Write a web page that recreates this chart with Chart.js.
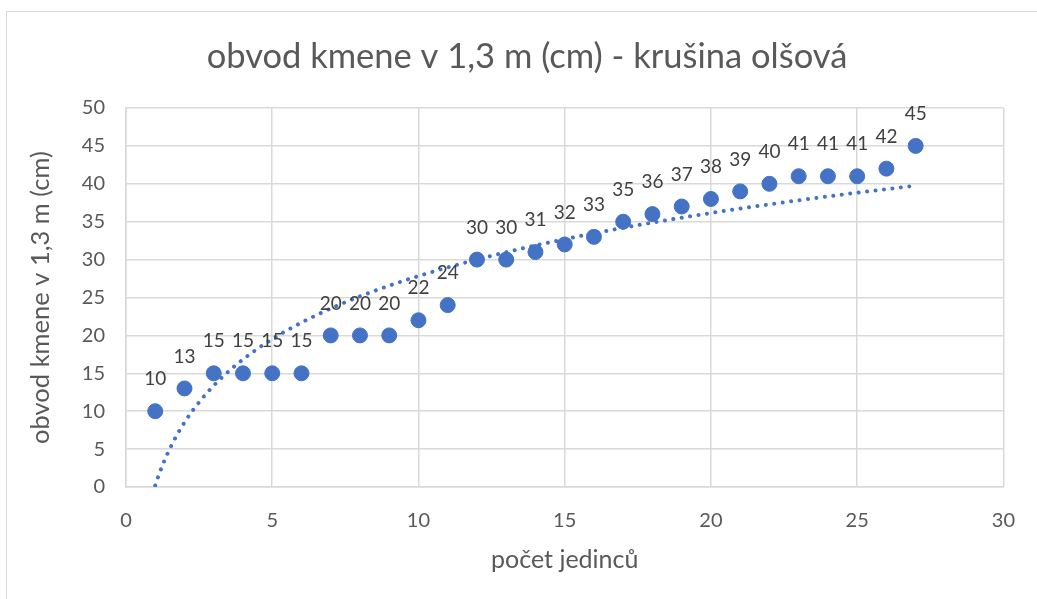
<!DOCTYPE html>
<html lang="cs">
<head>
<meta charset="utf-8">
<title>obvod kmene v 1,3 m (cm) - krušina olšová</title>
<script src="https://cdn.jsdelivr.net/npm/chart.js@4/dist/chart.umd.min.js"></script>
<style>
  html, body { margin: 0; padding: 0; background: #fff; overflow: hidden; }
  #frame { position: absolute; left: 6px; top: 11px; width: 1100px; height: 700px; border: 1px solid #d9d9d9; }
  #chart { position: absolute; left: 0; top: 0; }
</style>
</head>
<body>
<div id="frame"></div>
<canvas id="chart" width="1037" height="599"></canvas>
<script>
/* Obvod kmene — krušina olšová, scatter + log trendline */

const jedinci = [1, 2, 3, 4, 5, 6, 7, 8, 9, 10, 11, 12, 13, 14, 15, 16, 17, 18, 19, 20, 21, 22, 23, 24, 25, 26, 27];
const obvod = [10, 13, 15, 15, 15, 15, 20, 20, 20, 22, 24, 30, 30, 31, 32, 33, 35, 36, 37, 38, 39, 40, 41, 41, 41, 42, 45];
const xTicks = [0, 5, 10, 15, 20, 25, 30];
const yTicks = [0, 5, 10, 15, 20, 25, 30, 35, 40, 45, 50];

const BLUE = '#4472C4';
const GREY_TEXT = '#595959';
const GRID = '#d9d9d9';
const FONT = 'Lato, "Open Sans", sans-serif';

// ---- logarithmic trendline (least squares on ln x, like Excel) ----
function logFit(xs, ys) {
  const lx = xs.map(Math.log);
  const n = xs.length;
  const mx = lx.reduce((a, b) => a + b, 0) / n;
  const my = ys.reduce((a, b) => a + b, 0) / n;
  let sxy = 0, sxx = 0;
  lx.forEach((v, i) => { sxy += (v - mx) * (ys[i] - my); sxx += (v - mx) * (v - mx); });
  const a = sxy / sxx;
  return { a, b: my - a * mx };
}
const fit = logFit(jedinci, obvod);
const trend = [];
for (let x = jedinci[0]; x <= jedinci[jedinci.length - 1] + 1e-9; x += 0.1) {
  trend.push({ x, y: fit.a * Math.log(x) + fit.b });
}

// ---- data labels above each point ----
const pointLabels = {
  id: 'pointLabels',
  afterDatasetsDraw(chart) {
    const meta = chart.getDatasetMeta(0);
    const ctx = chart.ctx;
    ctx.save();
    ctx.font = '19px ' + FONT;
    ctx.fillStyle = '#404040';
    ctx.textAlign = 'center';
    ctx.textBaseline = 'middle';
    meta.data.forEach((pt, i) => ctx.fillText(String(obvod[i]), pt.x, pt.y - 32));
    ctx.restore();
  }
};

new Chart(document.getElementById('chart'), {
  type: 'scatter',
  data: {
    datasets: [
      {
        label: 'obvod kmene v 1,3 m (cm)',
        data: jedinci.map((x, i) => ({ x, y: obvod[i] })),
        backgroundColor: BLUE,
        borderColor: BLUE,
        pointRadius: 7.5,
        pointHoverRadius: 7.5,
        order: 0
      },
      {
        label: 'trend',
        type: 'line',
        data: trend,
        borderColor: BLUE,
        borderWidth: 4,
        borderDash: [0.01, 8.5],
        borderCapStyle: 'round',
        pointRadius: 0,
        fill: false,
        tension: 0,
        order: 1
      }
    ]
  },
  options: {
    responsive: false,
    animation: false,
    events: [],
    // left/right padding also centres the title like the reference
    layout: { padding: { top: 0, right: 33, bottom: 0, left: 50 } },
    plugins: {
      legend: { display: false },
      tooltip: { enabled: false },
      title: {
        display: true,
        text: 'obvod kmene v 1,3 m (cm) - krušina olšová',
        color: GREY_TEXT,
        font: { family: FONT, size: 34.5, weight: 'normal' },
        padding: { top: 36, bottom: 30.6 }
      }
    },
    scales: {
      x: {
        type: 'linear',
        min: 0, max: 30,
        afterBuildTicks: s => { s.ticks = xTicks.map(v => ({ value: v })); },
        afterFit: s => { s.height = 112; },
        grid: { color: GRID, lineWidth: 1.5, drawTicks: false },
        border: { color: GRID, width: 1.5 },
        ticks: { color: GREY_TEXT, font: { family: FONT, size: 20 }, padding: 22, maxRotation: 0 },
        title: {
          display: true,
          text: 'počet jedinců',
          color: GREY_TEXT,
          font: { family: FONT, size: 25 },
          padding: { top: 0, bottom: 24 }
        }
      },
      y: {
        type: 'linear',
        min: 0, max: 50,
        afterBuildTicks: s => { s.ticks = yTicks.map(v => ({ value: v })); },
        afterFit: s => { s.width = 76; },
        grid: { color: GRID, lineWidth: 1.5, drawTicks: false },
        border: { color: GRID, width: 1.5 },
        ticks: { color: GREY_TEXT, font: { family: FONT, size: 20 }, padding: 21 },
        title: {
          display: true,
          text: 'obvod kmene v 1,3 m (cm)',
          color: GREY_TEXT,
          font: { family: FONT, size: 25.5 },
          padding: { top: -25, bottom: 0 }
        }
      }
    }
  },
  plugins: [pointLabels]
});
</script>
</body>
</html>
